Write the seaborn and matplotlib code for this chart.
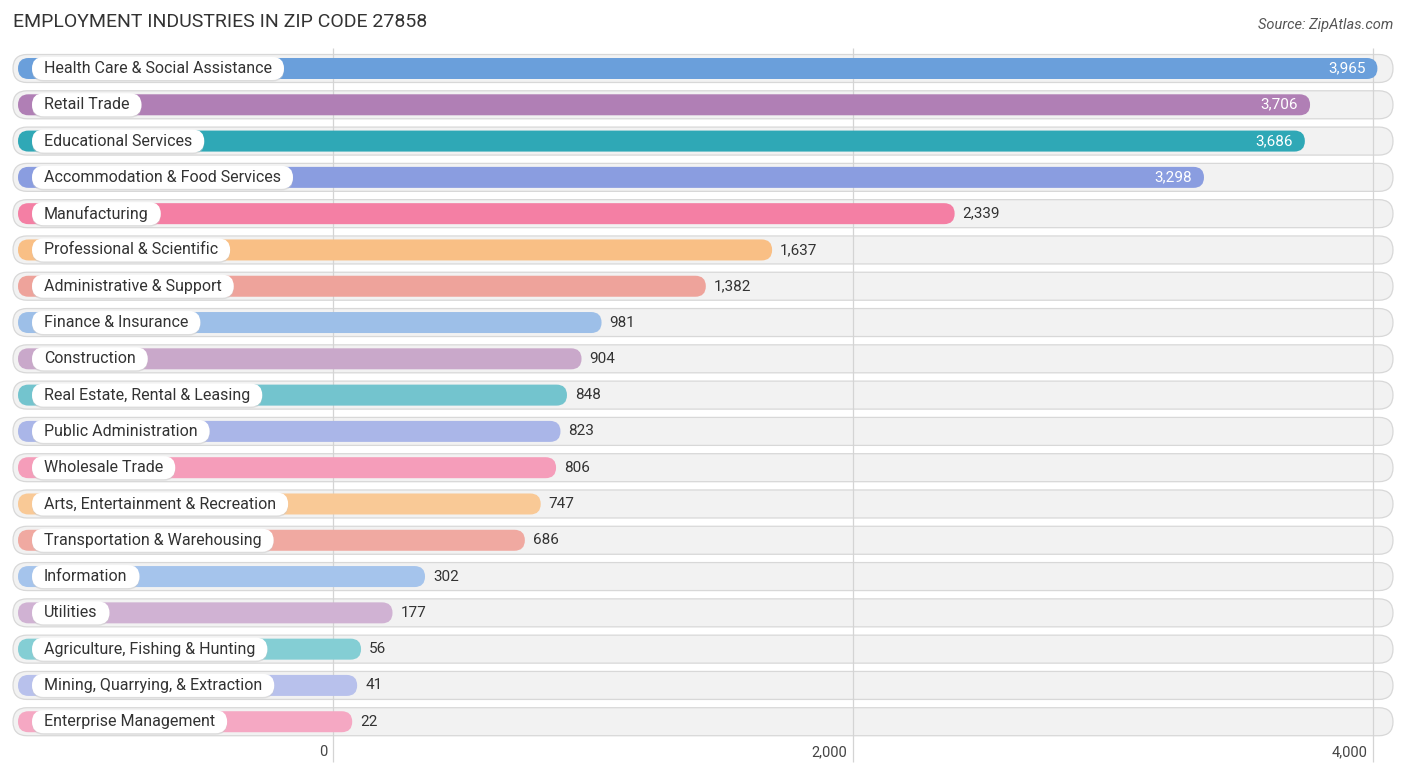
"""
Employment industries in ZIP code 27858 - rounded horizontal bar chart
"""

import matplotlib
matplotlib.use("Agg")
import matplotlib.pyplot as plt
import seaborn as sns
import pandas as pd
from matplotlib.patches import FancyBboxPatch

# Data
industries = [
    "Health Care & Social Assistance",
    "Retail Trade",
    "Educational Services",
    "Accommodation & Food Services",
    "Manufacturing",
    "Professional & Scientific",
    "Administrative & Support",
    "Finance & Insurance",
    "Construction",
    "Real Estate, Rental & Leasing",
    "Public Administration",
    "Wholesale Trade",
    "Arts, Entertainment & Recreation",
    "Transportation & Warehousing",
    "Information",
    "Utilities",
    "Agriculture, Fishing & Hunting",
    "Mining, Quarrying, & Extraction",
    "Enterprise Management",
]
values = [3965, 3706, 3686, 3298, 2339, 1637, 1382, 981, 904, 848,
          823, 806, 747, 686, 302, 177, 56, 41, 22]
bar_colors = [
    "#6a9fdb", "#b07fb5", "#2fa8b6", "#8a9de0", "#f47fa4", "#f9bf85",
    "#eea39b", "#9dbfe8", "#c9a8ca", "#73c4ce", "#aab6e8", "#f59dba",
    "#f9c996", "#f0a9a1", "#a5c4ec", "#d0b2d3", "#84ced4", "#b8c1ec",
    "#f5a8c3",
]
tick_values = [0, 2000, 4000]
tick_labels = ["0", "2,000", "4,000"]

sns.set_style("white")
plt.rcParams["font.family"] = ["Roboto", "DejaVu Sans"]

# pixel layout of the reference
W, H, DPI = 1406, 776, 100
PX = 0.26           # pixels per unit
X0 = 333            # pixel position of value 0
ROW0, ROW_STEP = 68.5, 36.29


def px_to_x(p):
    return (p - X0) / PX


def px_to_y(p):
    return (p - ROW0) / ROW_STEP


fig = plt.figure(figsize=(W / DPI, H / DPI), dpi=DPI)
ax = fig.add_axes([0, 0, 1, 1])

df = pd.DataFrame({"industry": industries, "value": values})
bar_h = 21 / ROW_STEP
sns.barplot(data=df, x="value", y="industry", hue="industry",
            palette=bar_colors, width=bar_h, legend=False, ax=ax,
            saturation=1, zorder=3)

ax.set_xlim(px_to_x(0), px_to_x(W))
ax.set_ylim(px_to_y(H), px_to_y(0))
ax.axis("off")

aspect = PX / ROW_STEP

# background pills
bg_h = 28 / ROW_STEP
for i in range(len(industries)):
    left, right = px_to_x(13), px_to_x(1393)
    ax.add_patch(FancyBboxPatch(
        (left, i - bg_h / 2), right - left, bg_h,
        boxstyle=f"round,pad=0,rounding_size={bg_h / 2 / aspect}",
        mutation_aspect=aspect, fc="#f2f2f2", ec="#d8d8d8", lw=0.9, zorder=1))

# grid lines
ax.vlines(tick_values, px_to_y(48), px_to_y(762), color="#d4d4d4", lw=0.9, zorder=2)
for t, lab in zip(tick_values, tick_labels):
    ax.text(t - 6 / PX, px_to_y(752), lab, ha="right", va="center",
            fontsize=10.5, color="#444444")

# turn seaborn rectangles into rounded bars
bar_start = px_to_x(18)
cap = 13.5 / PX
for patch in list(ax.patches):
    if isinstance(patch, FancyBboxPatch):
        continue
    h = patch.get_height()
    yc = patch.get_y() + h / 2
    v = patch.get_width()
    ax.add_patch(FancyBboxPatch(
        (bar_start, yc - h / 2), v + cap - bar_start, h,
        boxstyle=f"round,pad=0,rounding_size={h / 2 / aspect}",
        mutation_aspect=aspect, fc=patch.get_facecolor(), ec="none", zorder=3))
    patch.remove()

    row = int(round(yc))
    label = f"{values[row]:,}"
    if v > 3000:
        ax.text(v + cap - 12 / PX, row, label, ha="right", va="center",
                fontsize=11, color="white", zorder=6)
    else:
        ax.text(v + cap + 8 / PX, row, label, ha="left", va="center",
                fontsize=11, color="#333333", zorder=6)

# category labels on white pills
texts = []
for i, name in enumerate(industries):
    texts.append(ax.text(px_to_x(44), i, name, ha="left", va="center",
                         fontsize=11.5, color="#333333", zorder=6))

fig.canvas.draw()
renderer = fig.canvas.get_renderer()
lab_h = 23 / ROW_STEP
for i, txt in enumerate(texts):
    bb = txt.get_window_extent(renderer)
    left, right = px_to_x(32), px_to_x(bb.x1 + 12)
    ax.add_patch(FancyBboxPatch(
        (left, i - lab_h / 2 + 1.5 / ROW_STEP), right - left, lab_h,
        boxstyle=f"round,pad=0,rounding_size={lab_h / 2 / aspect}",
        mutation_aspect=aspect, fc="#c8c8c8", ec="none", alpha=0.5, zorder=4))
    ax.add_patch(FancyBboxPatch(
        (left, i - lab_h / 2), right - left, lab_h,
        boxstyle=f"round,pad=0,rounding_size={lab_h / 2 / aspect}",
        mutation_aspect=aspect, fc="white", ec="none", zorder=5))

fig.text(13 / W, 1 - 22 / H, "EMPLOYMENT INDUSTRIES IN ZIP CODE 27858",
         ha="left", va="center", fontsize=14, color="#333333")
fig.text(1393 / W, 1 - 25 / H, "Source: ZipAtlas.com", ha="right", va="center",
         fontsize=10.5, style="italic", color="#555555")

fig.savefig("out.png", dpi=DPI)
plt.close()
